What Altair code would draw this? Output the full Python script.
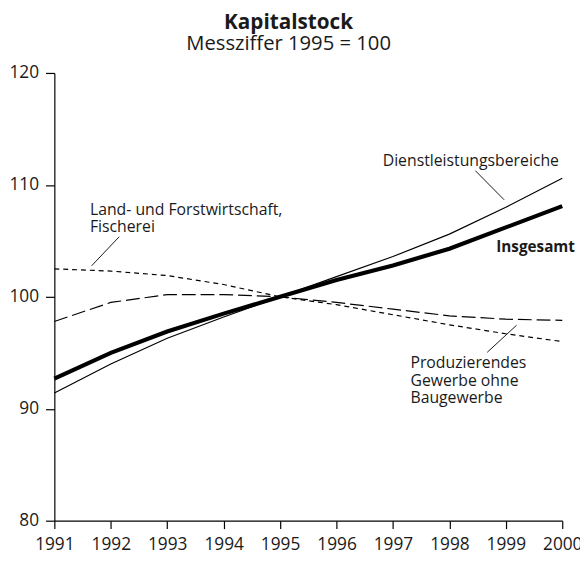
import altair as alt
import pandas as pd

years = [1991, 1992, 1993, 1994, 1995, 1996, 1997, 1998, 1999, 2000]
insgesamt = [92.7, 95.0, 96.9, 98.5, 100.0, 101.5, 102.8, 104.3, 106.2, 108.1]
dienst = [91.4, 94.0, 96.3, 98.2, 100.0, 101.8, 103.6, 105.6, 108.0, 110.6]
land = [102.5, 102.3, 101.9, 101.1, 100.0, 99.3, 98.4, 97.5, 96.7, 96.0]
produz = [97.8, 99.5, 100.2, 100.2, 100.0, 99.5, 98.9, 98.3, 98.0, 97.9]

series_names = ["Insgesamt", "Dienstleistungsbereiche", "Land- und Forstwirtschaft", "Produzierendes Gewerbe"]
series_values = [insgesamt, dienst, land, produz]
series_widths = [4.2, 1.2, 1.2, 1.2]
series_dashes = [None, None, [5, 4], [14, 5]]

# annotation texts (data coordinates)
center_text = ["Dienstleistungsbereiche"]
center_x = [1998.38]
center_y = [112.15]
centers = pd.DataFrame({"t": center_text, "x": center_x, "y": center_y})

left_text = ["Land- und Forstwirtschaft,", "Fischerei", "Produzierendes", "Gewerbe ohne", "Baugewerbe"]
left_x = [1991.63, 1991.63, 1997.31, 1997.31, 1997.31]
left_y = [107.75, 106.2, 94.1, 92.5, 90.95]
lefts = pd.DataFrame({"t": left_text, "x": left_x, "y": left_y})

bold_text = ["Insgesamt"]
bold_x = [1998.83]
bold_y = [104.42]
bold = pd.DataFrame({"t": bold_text, "x": bold_x, "y": bold_y})

# leader lines
lead_x = [1998.46, 1992.15, 1998.67]
lead_y = [111.27, 105.37, 95.04]
lead_x2 = [1998.97, 1991.66, 1999.19]
lead_y2 = [108.67, 102.77, 97.46]
leaders = pd.DataFrame({"x": lead_x, "y": lead_y, "x2": lead_x2, "y2": lead_y2})

FONT = "Open Sans"
TXT = "#1a1a1a"

xscale = alt.Scale(domain=[1991, 2000], nice=False, zero=False)
yscale = alt.Scale(domain=[80, 120], nice=False, zero=False)

xaxis = alt.Axis(values=years, format="d", title=None, grid=False, domainColor="black",
                 tickColor="black", tickSize=8, labelFontSize=17.5, labelFont=FONT,
                 labelColor=TXT, labelPadding=7, domainWidth=1.2, tickWidth=1.2,
                 labelOverlap=False, labelFlush=False)
yaxis = alt.Axis(values=[80, 90, 100, 110, 120], title=None, grid=False, domainColor="black",
                 tickColor="black", tickSize=9, labelFontSize=17.5, labelFont=FONT,
                 labelColor=TXT, labelPadding=7, domainWidth=1.2, tickWidth=1.2)

layers = []
for i, (name, vals, w, d) in enumerate(zip(series_names, series_values, series_widths, series_dashes)):
    sdf = pd.DataFrame({"year": years, "value": vals})
    mk = {"color": "black", "strokeWidth": w}
    if d is not None:
        mk["strokeDash"] = d
    if i == 0:
        enc = dict(x=alt.X("year:Q", scale=xscale, axis=xaxis),
                   y=alt.Y("value:Q", scale=yscale, axis=yaxis))
    else:
        enc = dict(x=alt.X("year:Q"), y=alt.Y("value:Q"))
    layers.append(alt.Chart(sdf).mark_line(**mk).encode(**enc))

rules = alt.Chart(leaders).mark_rule(color="black", strokeWidth=0.9).encode(
    x="x:Q", y="y:Q", x2="x2:Q", y2="y2:Q"
)

ctext = alt.Chart(centers).mark_text(font=FONT, fontSize=16, color=TXT, baseline="middle",
                                     align="center").encode(
    x="x:Q", y="y:Q", text="t:N"
)

ltext = alt.Chart(lefts).mark_text(font=FONT, fontSize=16, color=TXT, baseline="middle",
                                   align="left").encode(
    x="x:Q", y="y:Q", text="t:N"
)

btext = alt.Chart(bold).mark_text(font=FONT, fontSize=15.5, fontWeight="bold", color=TXT,
                                  baseline="middle", align="left").encode(
    x="x:Q", y="y:Q", text="t:N"
)

chart = alt.layer(*layers, rules, ctext, ltext, btext).properties(
    width=515, height=454,
    autosize=alt.AutoSizeParams(type="none"),
    padding={"left": 47, "top": 62, "right": 18, "bottom": 37},
    title=alt.TitleParams(
        text="Kapitalstock", subtitle="Messziffer 1995 = 100",
        font=FONT, fontSize=21, fontWeight="bold", color=TXT,
        subtitleFont=FONT, subtitleFontSize=20.5, subtitleColor=TXT,
        subtitlePadding=1, anchor="middle", dx=-20, offset=10,
    ),
).configure_view(stroke=None)

chart.save("out.html", embed_options={"renderer": "svg", "actions": False})
